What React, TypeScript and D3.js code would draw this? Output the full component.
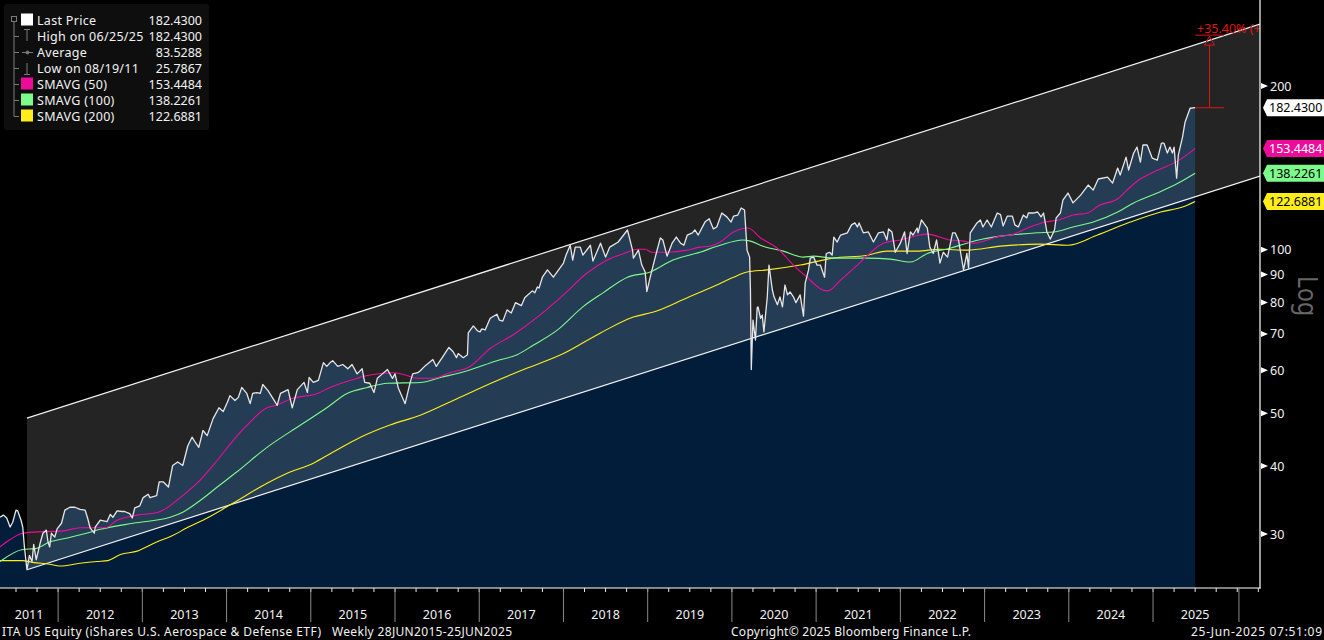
import React from "react";
import * as d3 from "d3";

type P = [number, number];

const priceHistory: P[] = [
[2011.31,32.2],[2011.35,32.5],[2011.39,32.1],[2011.43,30.9],[2011.46,31.5],[2011.50,33.2],[2011.52,33.1],[2011.56,31.8],[2011.58,30.9],[2011.60,28.4],[2011.63,25.79],[2011.66,27.4],[2011.69,26.7],[2011.71,28.7],[2011.74,26.9],[2011.79,29.0],[2011.82,30.1],[2011.86,30.5],[2011.88,29.0],[2011.90,28.4],[2011.92,30.1],[2011.96,29.6],[2011.99,30.7],
[2012.04,31.4],[2012.08,33.2],[2012.14,33.6],[2012.20,33.6],[2012.26,33.3],[2012.32,33.2],[2012.35,32.1],[2012.38,30.8],[2012.43,30.1],[2012.44,30.9],[2012.50,31.8],[2012.58,31.6],[2012.62,32.6],[2012.65,32.2],[2012.70,33.1],[2012.76,33.0],[2012.79,33.0],[2012.85,32.7],[2012.88,32.1],[2012.91,33.5],[2012.97,33.8],
[2013.01,35.0],[2013.07,35.5],[2013.09,35.0],[2013.17,35.3],[2013.20,37.4],[2013.25,37.4],[2013.31,36.6],[2013.36,40.1],[2013.42,40.7],[2013.48,40.1],[2013.54,43.6],[2013.59,45.2],[2013.63,44.2],[2013.67,43.3],[2013.72,46.5],[2013.77,45.5],[2013.84,48.9],[2013.91,51.2],[2013.96,50.4],
[2014.01,52.4],[2014.04,53.9],[2014.10,52.8],[2014.14,53.5],[2014.18,55.8],[2014.24,54.4],[2014.28,52.1],[2014.31,54.4],[2014.36,54.6],[2014.40,54.4],[2014.43,56.5],[2014.49,55.1],[2014.58,52.4],[2014.60,51.7],[2014.64,54.4],[2014.73,55.3],[2014.78,51.2],[2014.84,55.3],[2014.92,57.0],[2014.96,54.6],[2014.98,58.2],
[2015.03,57.0],[2015.09,57.5],[2015.15,62.0],[2015.19,61.0],[2015.23,62.0],[2015.26,62.5],[2015.32,61.0],[2015.38,61.5],[2015.44,60.4],[2015.49,61.5],[2015.55,59.1],[2015.61,60.4],[2015.64,57.0],[2015.70,56.8],[2015.75,54.6],[2015.79,58.0],[2015.85,59.1],[2015.91,60.2],[2015.97,58.0],
[2016.00,59.1],[2016.04,55.6],[2016.12,52.1],[2016.18,57.0],[2016.21,59.1],[2016.27,59.4],[2016.30,59.9],[2016.36,61.2],[2016.45,62.8],[2016.49,61.0],[2016.56,63.3],[2016.64,66.1],[2016.69,64.9],[2016.73,63.3],[2016.75,64.4],[2016.81,63.3],[2016.86,64.1],[2016.87,70.3],[2016.93,72.4],[2016.98,70.9],
[2017.01,70.6],[2017.03,71.5],[2017.07,71.2],[2017.13,74.8],[2017.21,76.1],[2017.24,74.2],[2017.28,73.9],[2017.33,77.5],[2017.38,76.5],[2017.43,79.9],[2017.50,78.9],[2017.54,81.6],[2017.63,84.0],[2017.66,83.3],[2017.69,85.4],[2017.71,85.0],[2017.75,89.0],[2017.81,91.8],[2017.88,89.0],
[2018.00,94.5],[2018.03,97.7],[2018.08,101.9],[2018.11,95.7],[2018.14,101.1],[2018.20,101.1],[2018.23,97.7],[2018.32,101.9],[2018.35,95.3],[2018.44,102.8],[2018.50,96.9],[2018.55,101.1],[2018.65,103.3],[2018.76,108.7],[2018.82,99.8],[2018.83,96.5],[2018.89,99.8],[2018.93,93.7],[2018.97,91.0],[2018.99,83.7],
[2019.03,89.0],[2019.09,96.9],[2019.15,105.1],[2019.18,104.2],[2019.23,97.3],[2019.29,102.8],[2019.34,105.5],[2019.39,102.8],[2019.43,101.9],[2019.47,106.4],[2019.53,107.4],[2019.56,108.7],[2019.60,106.4],[2019.68,112.4],[2019.73,114.0],[2019.78,109.2],[2019.82,110.1],[2019.88,116.8],[2019.94,114.9],[2019.99,112.4],
[2020.02,115.3],[2020.07,115.8],[2020.11,119.3],[2020.15,118.3],[2020.18,99.8],[2020.21,96.9],[2020.22,84.3],[2020.23,60.2],[2020.25,74.2],[2020.28,68.2],[2020.30,78.2],[2020.31,78.5],[2020.34,74.8],[2020.36,75.8],[2020.38,70.6],[2020.42,81.9],[2020.44,93.7],[2020.48,84.3],[2020.50,81.9],[2020.54,79.2],[2020.57,81.9],[2020.60,78.5],[2020.63,86.1],[2020.66,82.6],[2020.69,83.6],[2020.73,81.9],[2020.76,79.9],[2020.81,82.6],[2020.85,75.5],[2020.87,86.8],[2020.91,91.8],[2020.93,96.5],[2020.97,96.9],
[2021.01,93.7],[2021.05,93.7],[2021.10,89.0],[2021.12,98.4],[2021.16,98.9],[2021.19,97.7],[2021.21,105.5],[2021.25,103.3],[2021.29,106.4],[2021.37,107.4],[2021.42,111.1],[2021.46,112.0],[2021.49,110.1],[2021.51,112.0],[2021.56,107.4],[2021.62,107.8],[2021.68,103.3],[2021.74,107.4],[2021.80,107.8],[2021.84,104.2],[2021.86,109.2],[2021.90,107.8],[2021.94,98.9],
[2022.00,102.8],[2022.05,107.8],[2022.08,98.4],[2022.12,107.8],[2022.15,106.4],[2022.20,109.6],[2022.21,107.4],[2022.25,113.4],[2022.32,109.6],[2022.35,101.1],[2022.39,98.4],[2022.43,104.2],[2022.47,94.5],[2022.51,98.9],[2022.56,96.9],[2022.62,107.4],[2022.65,107.4],[2022.69,104.2],[2022.75,91.8],[2022.79,98.4],[2022.81,92.5],[2022.83,107.4],[2022.91,112.0],[2022.95,113.4],[2022.98,110.1],
[2023.03,113.4],[2023.08,110.1],[2023.15,116.8],[2023.19,116.0],[2023.22,110.6],[2023.27,115.3],[2023.33,115.3],[2023.36,111.1],[2023.40,110.1],[2023.46,115.8],[2023.50,114.4],[2023.52,116.8],[2023.58,116.8],[2023.63,117.3],[2023.67,114.9],[2023.70,116.8],[2023.74,107.8],[2023.78,104.6],[2023.83,108.7],[2023.85,114.4],[2023.90,116.8],[2023.93,123.4],[2023.99,127.1],
[2024.05,121.9],[2024.14,126.0],[2024.23,131.5],[2024.29,128.7],[2024.35,134.9],[2024.46,136.0],[2024.52,132.6],[2024.58,141.3],[2024.61,137.2],[2024.68,148.0],[2024.71,140.1],[2024.77,150.6],[2024.81,154.4],[2024.85,144.9],[2024.88,155.8],[2024.93,155.8],[2024.99,147.4],
[2025.05,146.1],[2025.10,157.0],[2025.13,157.0],[2025.17,150.6],[2025.20,154.4],[2025.23,150.6],[2025.25,154.4],[2025.28,135.4],[2025.30,149.3],[2025.35,161.1],[2025.38,171.6],[2025.44,182.0],[2025.50,182.43],
];

const sma50: P[] = [
[2011.31,28.4],[2011.43,29.3],[2011.58,30.1],[2011.82,30.3],[2012.06,30.4],[2012.26,30.8],[2012.56,30.8],[2012.70,31.8],[2012.94,32.5],[2013.19,32.9],[2013.29,33.5],[2013.45,35.0],[2013.65,37.2],[2013.89,41.0],[2014.08,44.6],[2014.24,47.5],[2014.48,51.2],[2014.58,51.7],[2014.79,53.3],[2015.08,54.4],[2015.23,55.8],[2015.55,58.0],[2015.67,58.7],[2015.98,59.4],[2016.14,58.7],[2016.26,58.0],[2016.45,58.0],[2016.65,59.4],[2016.89,61.0],[2017.13,65.8],[2017.40,69.7],[2017.72,75.8],[2018.00,82.6],[2018.28,90.6],[2018.52,95.7],[2018.76,98.9],[2018.87,100.2],[2018.97,100.2],[2019.05,98.9],[2019.23,98.9],[2019.47,99.8],[2019.62,101.1],[2019.74,101.5],[2019.86,103.3],[2020.02,107.8],[2020.19,109.6],[2020.34,105.1],[2020.54,100.6],[2020.73,93.7],[2020.89,89.0],[2021.08,84.3],[2021.14,84.0],[2021.29,87.9],[2021.49,93.7],[2021.80,102.8],[2022.00,104.2],[2022.32,106.8],[2022.59,104.2],[2022.75,103.7],[2022.87,102.8],[2023.19,105.9],[2023.31,106.4],[2023.51,109.6],[2023.72,112.4],[2023.88,113.4],[2024.05,115.8],[2024.22,116.8],[2024.37,120.8],[2024.58,123.9],[2024.69,128.7],[2024.83,134.3],[2025.03,139.5],[2025.29,145.5],[2025.50,153.45],
];

const sma100: P[] = [
[2011.31,26.7],[2011.58,28.1],[2011.73,28.2],[2011.90,29.0],[2012.11,29.5],[2012.30,30.0],[2012.50,30.6],[2012.89,31.4],[2013.33,32.2],[2013.48,32.9],[2013.69,34.6],[2013.89,36.6],[2014.12,39.0],[2014.48,43.3],[2014.87,47.5],[2015.19,51.2],[2015.43,54.4],[2015.67,55.8],[2015.91,56.8],[2016.30,57.0],[2016.54,58.2],[2016.86,59.9],[2017.21,62.5],[2017.45,64.1],[2017.64,66.7],[2017.93,71.2],[2018.23,78.5],[2018.47,83.3],[2018.76,89.0],[2019.03,91.0],[2019.30,95.7],[2019.62,98.9],[2019.86,101.9],[2020.13,104.2],[2020.22,103.7],[2020.37,101.5],[2020.61,99.4],[2020.85,96.9],[2020.97,97.3],[2021.20,96.5],[2021.61,96.5],[2021.88,96.1],[2022.12,94.9],[2022.32,98.4],[2022.59,100.6],[2022.79,102.8],[2022.98,104.6],[2023.19,105.9],[2023.42,106.8],[2023.63,107.4],[2023.82,107.8],[2024.05,110.1],[2024.29,112.4],[2024.58,117.3],[2024.77,121.9],[2025.05,127.1],[2025.30,132.6],[2025.50,138.23],
];

const sma200: P[] = [
[2011.31,26.8],[2011.58,26.8],[2011.70,26.6],[2011.90,26.4],[2012.02,26.2],[2012.26,26.5],[2012.46,26.7],[2012.59,26.8],[2012.74,27.5],[2012.94,27.9],[2013.17,29.0],[2013.36,29.8],[2013.53,30.8],[2013.77,32.1],[2014.08,34.2],[2014.48,37.2],[2014.72,38.8],[2015.03,40.5],[2015.26,42.4],[2015.59,45.2],[2015.94,47.6],[2016.30,49.6],[2016.69,52.8],[2017.16,57.0],[2017.49,59.9],[2018.00,64.4],[2018.44,70.3],[2018.83,75.2],[2019.07,76.8],[2019.47,81.6],[2019.82,86.1],[2020.02,89.0],[2020.18,91.0],[2020.42,91.8],[2020.81,93.7],[2021.20,96.5],[2021.61,97.7],[2021.84,99.4],[2022.20,99.4],[2022.47,100.2],[2022.79,99.8],[2023.19,101.5],[2023.66,102.4],[2023.99,101.9],[2024.34,106.4],[2024.73,112.4],[2025.09,117.3],[2025.35,119.8],[2025.50,122.69],
];

const channelUpper: P[] = [[2011.63, 49.0], [2026.27, 260.0]];
const channelLower: P[] = [[2011.63, 25.79], [2026.27, 136.6]];

const yTicks = [200, 100, 90, 80, 70, 60, 50, 40, 30];
const yearLabels = [2011, 2012, 2013, 2014, 2015, 2016, 2017, 2018, 2019, 2020, 2021, 2022, 2023, 2024, 2025];
const yearBreaks = [2012, 2013, 2014, 2015, 2016, 2017, 2018, 2019, 2020, 2021, 2022, 2023, 2024, 2025, 2026.02];

const legendNames = ["Last Price", "High on 06/25/25", "Average", "Low on 08/19/11", "SMAVG (50)", "SMAVG (100)", "SMAVG (200)"];
const legendValues = ["182.4300", "182.4300", "83.5288", "25.7867", "153.4484", "138.2261", "122.6881"];
const legendSwatches = ["#ffffff", "", "", "", "#ec0c9a", "#7dfc8c", "#ffee1a"];

const lastValues = [182.43, 153.4484, 138.2261, 122.6881];
const tagTexts = ["182.4300", "153.4484", "138.2261", "122.6881"];
const tagFills = ["#ffffff", "#ec0c9a", "#7dfc8c", "#ffee1a"];
const tagInks = ["#000000", "#ffffff", "#000000", "#000000"];
const targetPrice = 247;

const W = 1324, H = 640, axisX = 1260, axisY = 588;
const FONT = "'Noto Sans', sans-serif";
const TXT = "#f2f2f2";

export default function App() {
  const x = d3.scaleLinear().domain([2011.31, 2026.27]).range([0, axisX]);
  const y = d3.scaleLog().domain([30, 200]).range([534, 86]);
  const line = d3.line<P>().x(d => x(d[0])).y(d => y(d[1]));
  const smooth = d3.line<P>().x(d => x(d[0])).y(d => y(d[1])).curve(d3.curveMonotoneX);
  const area = d3.area<P>().x(d => x(d[0])).y0(axisY).y1(d => y(d[1]));
  const band = d3.area<[number, number, number]>().x(d => x(d[0])).y0(d => y(d[2])).y1(d => y(d[1]));
  const bandData: [number, number, number][] = channelUpper.map((d, i) => [d[0], d[1], channelLower[i][1]]);
  const endX = x(priceHistory[priceHistory.length - 1][0]);
  const quarters = d3.range(2011.5, 2026.3, 0.25).filter(v => x(v) <= axisX);
  const ty = y(targetPrice), ly = y(182.43), mx = 1209.5;

  return (
    <svg width={W} height={H} viewBox={`0 0 ${W} ${H}`} style={{ position: "absolute", left: 0, top: 0, display: "block", background: "#000" }} fontFamily={FONT}>
      <defs>
        <clipPath id="plot"><rect x={0} y={0} width={axisX} height={axisY} /></clipPath>
      </defs>
      <rect width={W} height={H} fill="#000" />
      <g clipPath="url(#plot)">
        <path d={area(priceHistory) ?? ""} fill="#021d3a" />
        <path d={band(bandData) ?? ""} fill="#ffffff" fillOpacity={0.14} />
        <path d={line(channelUpper) ?? ""} fill="none" stroke="#f4f4f4" strokeWidth={1.2} />
        <path d={line(channelLower) ?? ""} fill="none" stroke="#f4f4f4" strokeWidth={1.2} />
        <path d={smooth(sma200) ?? ""} fill="none" stroke="#ffee1a" strokeWidth={1.1} />
        <path d={smooth(sma100) ?? ""} fill="none" stroke="#7dfc8c" strokeWidth={1.1} />
        <path d={smooth(sma50) ?? ""} fill="none" stroke="#ec0c9a" strokeWidth={1.1} />
        <path d={line(priceHistory) ?? ""} fill="none" stroke="#e6e6e6" strokeWidth={1.3} strokeLinejoin="round" />
        {/* target projection */}
        <g stroke="#e01414" fill="none" strokeWidth={1}>
          <line x1={endX} x2={1224} y1={ly} y2={ly} />
          <line x1={mx} x2={mx} y1={ly} y2={ty + 9} />
          <line x1={endX} x2={1224} y1={ty - 1} y2={ty - 1} />
          <path d={`M${mx},${ty} L${mx + 5},${ty + 9} L${mx - 5},${ty + 9} Z`} />
        </g>
        <text x={1197} y={33} fontSize={12.5} fill="#e01414">+35.40% (+64.57)</text>
      </g>

      {/* axes */}
      <line x1={axisX} x2={axisX} y1={0} y2={axisY + 0.5} stroke="#fff" strokeWidth={1.2} />
      <line x1={0} x2={axisX + 0.5} y1={axisY} y2={axisY} stroke="#fff" strokeWidth={1.2} />
      {quarters.map(q => (
        <line key={q} x1={x(q)} x2={x(q)} y1={axisY} y2={axisY + 4} stroke="#e6e6e6" strokeWidth={1} />
      ))}
      {yearBreaks.map(v => (
        <line key={v} x1={x(v)} x2={x(v)} y1={axisY} y2={622} stroke="#8a8a8a" strokeWidth={1} />
      ))}
      {yearLabels.map((v, i) => {
        const a = i === 0 ? 0 : x(v);
        const b = x(v + 1);
        return <text key={v} x={(a + b) / 2} y={619} textAnchor="middle" fontSize={12.5} fill={TXT}>{v}</text>;
      })}
      {yTicks.map(t => (
        <g key={t}>
          <path d={`M${axisX + 1},${y(t) - 3} L${axisX + 8},${y(t)} L${axisX + 1},${y(t) + 3} Z`} fill="#fff" />
          <text x={axisX + 10} y={y(t) + 4.5} fontSize={12.5} fill={TXT}>{t}</text>
        </g>
      ))}
      <text transform="translate(1298,276) rotate(90)" fontSize={27} fill="#666666" textLength={40} lengthAdjust="spacingAndGlyphs">Log</text>

      {/* value tags */}
      {lastValues.map((v, i) => {
        const c = y(v);
        return (
          <g key={i}>
            <path d={`M1263,${c} L1267,${c - 8.5} L${W},${c - 8.5} L${W},${c + 8.5} L1267,${c + 8.5} Z`} fill={tagFills[i]} />
            <text x={1269} y={c + 4.5} fontSize={12.5} fill={tagInks[i]}>{tagTexts[i]}</text>
          </g>
        );
      })}

      {/* legend */}
      <rect x={4} y={4} width={205} height={126} rx={3} fill="#0e0e0e" />
      <g stroke="#7a7a7a" fill="none" strokeWidth={1}>
        <rect x={11.5} y={16.5} width={5} height={5} />
        <line x1={14} x2={14} y1={22} y2={116.5} />
        {[36, 52, 68, 84, 100, 116].map(r => <line key={r} x1={14} x2={19} y1={r + 0.5} y2={r + 0.5} />)}
        <path d="M24,29.5 H30 M27,29.5 V41" />
        <path d="M22,52.5 H33" />
        <circle cx={27.5} cy={52.5} r={1.5} fill="#7a7a7a" />
        <path d="M27,63 V74.5 M24,74.5 H30" />
      </g>
      {legendNames.map((n, i) => {
        const r = 20 + i * 16;
        return (
          <g key={n}>
            {legendSwatches[i] && <rect x={21} y={r - 6.5} width={12} height={12} fill={legendSwatches[i]} />}
            <text x={37} y={r + 4.5} fontSize={12.5} letterSpacing={0.3} fill={TXT}>{n}</text>
            <text x={202} y={r + 4.5} fontSize={12.5} textAnchor="end" fill={TXT}>{legendValues[i]}</text>
          </g>
        );
      })}

      {/* footer */}
      <text x={2} y={636} fontSize={12} fill={TXT} textLength={319}>ITA US Equity (iShares U.S. Aerospace &amp; Defense ETF)</text>
      <text x={332} y={636} fontSize={12} fill={TXT} textLength={180}>Weekly 28JUN2015-25JUN2025</text>
      <text x={731} y={636} fontSize={12} fill={TXT} textLength={240}>Copyright© 2025 Bloomberg Finance L.P.</text>
      <text x={1191} y={636} fontSize={12} fill={TXT} textLength={131}>25-Jun-2025 07:51:09</text>
    </svg>
  );
}
